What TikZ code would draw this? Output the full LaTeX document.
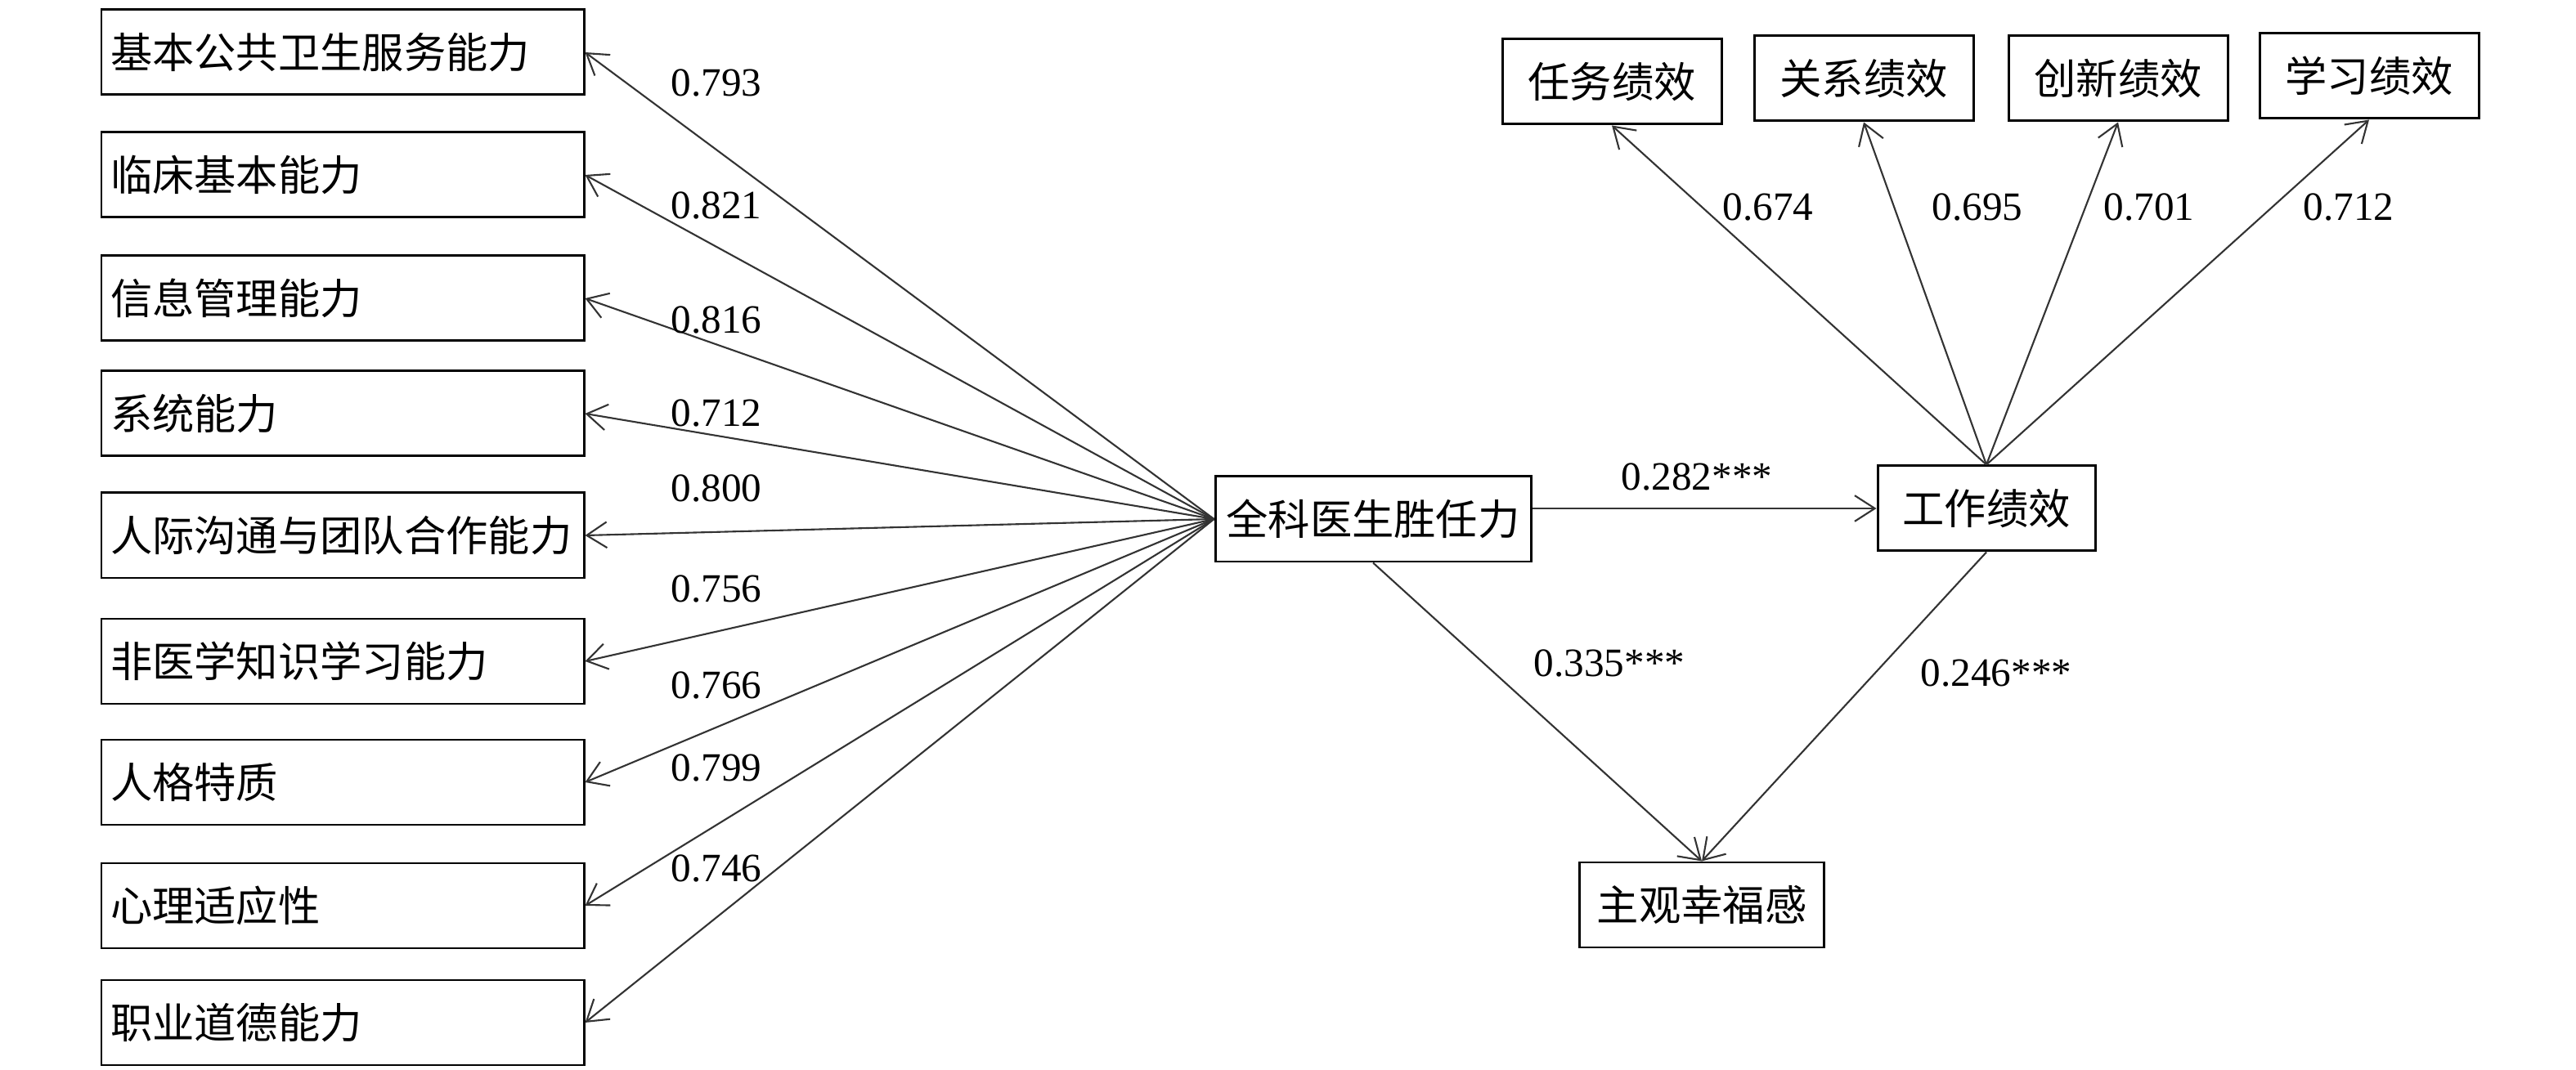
\documentclass[tikz,border=0pt]{standalone}
\usepackage{fontspec}
\setmainfont{Liberation Serif}
\newfontfamily\cjk{Noto Sans CJK SC}
\usetikzlibrary{arrows.meta}

\begin{document}
\begin{tikzpicture}[box/.style = {draw, line width=0.85pt, minimum height=1.04cm, inner sep=0pt, font=\cjk\fontsize{14.6}{16}\selectfont},
    lbox/.style = {box, text width=5.68cm, inner xsep=0.11cm, align=left},
    arr/.style = {-{Straight Barb[length=7pt,width=9pt]}, line width=0.6pt, draw=black!80},
    num/.style = {inner sep=0pt, font=\fontsize{14}{16}\selectfont}]
        \useasboundingbox (0,0) rectangle (31.5,-13.09);
        % left: competence items
        \node[lbox] (c1) at (4.19,-0.64) {基本公共卫生服务能力};
        \node[lbox] (c2) at (4.19,-2.14) {临床基本能力};
        \node[lbox] (c3) at (4.19,-3.65) {信息管理能力};
        \node[lbox] (c4) at (4.19,-5.06) {系统能力};
        \node[lbox] (c5) at (4.19,-6.55) {人际沟通与团队合作能力};
        \node[lbox] (c6) at (4.19,-8.09) {非医学知识学习能力};
        \node[lbox] (c7) at (4.19,-9.57) {人格特质};
        \node[lbox] (c8) at (4.19,-11.08) {心理适应性};
        \node[lbox] (c9) at (4.19,-12.51) {职业道德能力};
        % middle and right
        \node[box, minimum width=3.86cm] (qk) at (16.79,-6.35) {全科医生胜任力};
        \node[box, minimum width=2.66cm] (gz) at (24.29,-6.22) {工作绩效};
        \node[box, minimum width=2.99cm] (zg) at (20.81,-11.07) {主观幸福感};
        \node[box, minimum width=2.68cm] (p1) at (19.71,-1.00) {任务绩效};
        \node[box, minimum width=2.68cm] (p2) at (22.79,-0.96) {关系绩效};
        \node[box, minimum width=2.68cm] (p3) at (25.90,-0.96) {创新绩效};
        \node[box, minimum width=2.68cm] (p4) at (28.97,-0.93) {学习绩效};

        \foreach \i in {1,...,9} \draw[arr] (qk.west) -- (c\i.east);
        \foreach \i in {1,...,4} \draw[arr] (gz.north) -- (p\i.south);
        \draw[arr] (qk.east |- gz.west) -- (gz.west);
        \draw[arr] (qk.south) -- (zg.north);
        \draw[arr] (gz.south) -- (zg.north);

        % loadings and paths
        \node[num] (l1) at (8.76,-1.02) {0.793};
        \node[num] (l2) at (8.76,-2.52) {0.821};
        \node[num] (l3) at (8.76,-3.91) {0.816};
        \node[num] (l4) at (8.76,-5.05) {0.712};
        \node[num] (l5) at (8.76,-5.97) {0.800};
        \node[num] (l6) at (8.76,-7.20) {0.756};
        \node[num] (l7) at (8.76,-8.38) {0.766};
        \node[num] (l8) at (8.76,-9.39) {0.799};
        \node[num] (l9) at (8.76,-10.62) {0.746};
        \node[num] (k1) at (21.62,-2.54) {0.674};
        \node[num] (k2) at (24.18,-2.54) {0.695};
        \node[num] (k3) at (26.28,-2.54) {0.701};
        \node[num] (k4) at (28.72,-2.54) {0.712};
        \node[num] (e1) at (20.75,-5.83) {0.282***};
        \node[num] (e2) at (19.68,-8.11) {0.335***};
        \node[num] (e3) at (24.41,-8.23) {0.246***};
\end{tikzpicture}
\end{document}
